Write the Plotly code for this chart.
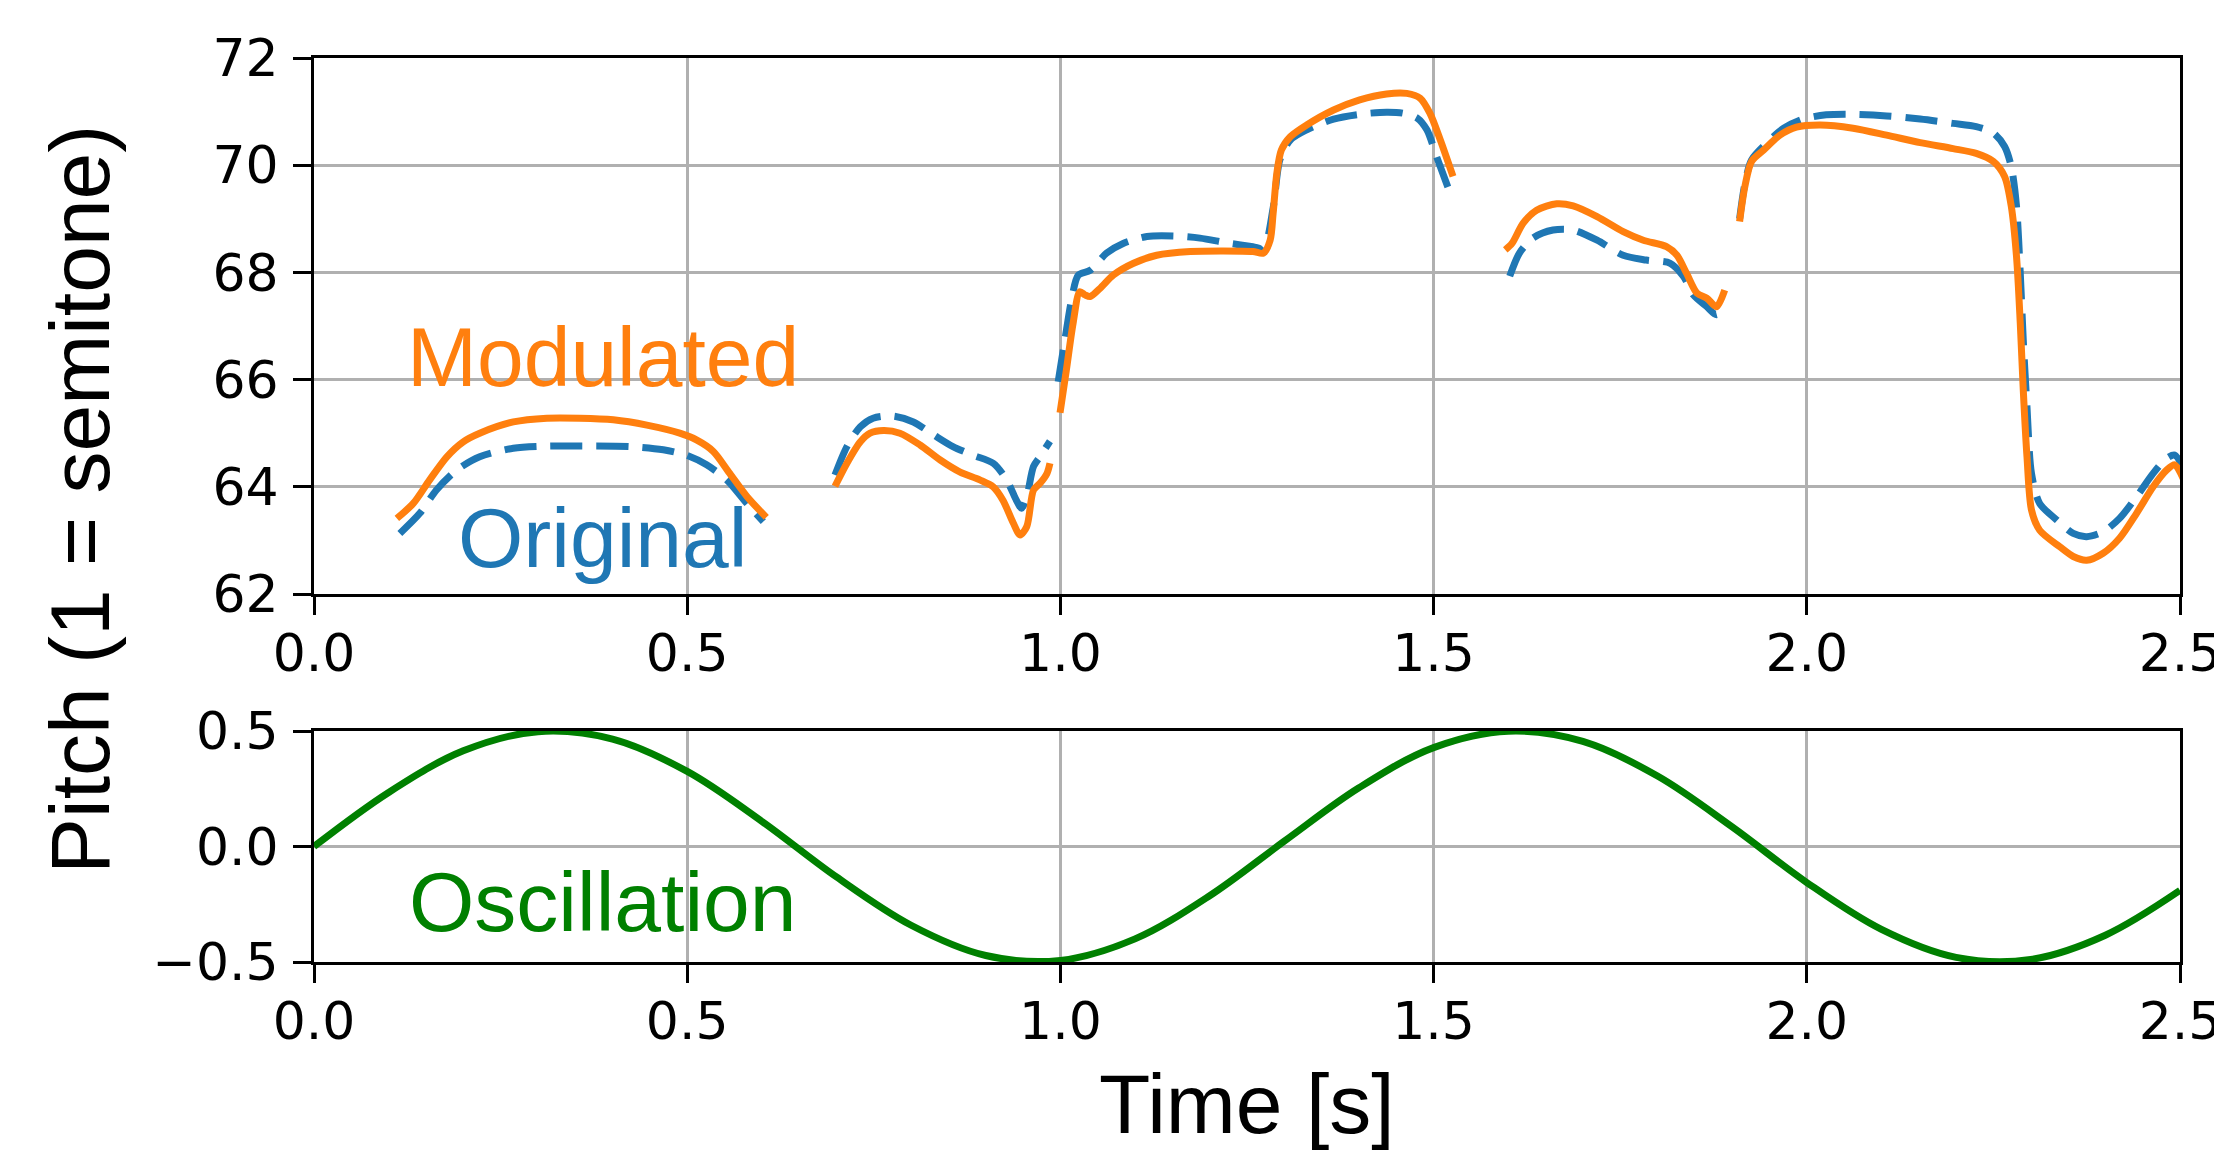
import plotly.graph_objects as go

# ---------------- data ----------------
# Modulated pitch (orange, solid); None separates voiced segments
mod_t = [0.111, 0.133, 0.155, 0.178, 0.200, 0.222, 0.267, 0.312, 0.356, 0.401, 0.446, 0.490, 0.513, 0.535, 0.557, 0.580, 0.606, None,
         0.698, 0.714, 0.732, 0.745, 0.763, 0.785, 0.812, 0.839, 0.865, 0.892, 0.910, 0.923, 0.937, 0.946, 0.955, 0.964, 0.973, 0.982, 0.986, None,
         0.9995, 1.008, 1.017, 1.026, 1.033, 1.040, 1.053, 1.071, 1.098, 1.129, 1.174, 1.218, 1.258, 1.272, 1.281, 1.285, 1.290, 1.296, 1.308, 1.330, 1.366, 1.401, 1.437, 1.464, 1.482, 1.495, 1.509, 1.526, None,
         1.596, 1.605, 1.620, 1.638, 1.665, 1.687, 1.719, 1.754, 1.781, 1.812, 1.826, 1.839, 1.853, 1.866, 1.879, 1.890, None,
         1.910, 1.917, 1.926, 1.942, 1.964, 1.986, 2.018, 2.062, 2.107, 2.152, 2.196, 2.227, 2.250, 2.265, 2.274, 2.281, 2.286, 2.290, 2.295, 2.301, 2.312, 2.339, 2.357, 2.375, 2.397, 2.419, 2.442, 2.464, 2.482, 2.493, 2.505]
mod_p = [63.41, 63.69, 64.13, 64.56, 64.84, 65.00, 65.21, 65.28, 65.28, 65.25, 65.15, 65.00, 64.87, 64.66, 64.25, 63.82, 63.43, None,
         64.01, 64.44, 64.84, 65.00, 65.05, 65.00, 64.78, 64.50, 64.28, 64.13, 64.00, 63.75, 63.32, 63.10, 63.26, 63.94, 64.07, 64.25, 64.44, None,
         65.38, 66.18, 67.05, 67.64, 67.58, 67.55, 67.70, 67.95, 68.17, 68.32, 68.39, 68.40, 68.39, 68.36, 68.60, 69.10, 69.85, 70.28, 70.53, 70.75, 71.03, 71.22, 71.33, 71.34, 71.25, 70.97, 70.47, 69.79, None,
         68.42, 68.54, 68.92, 69.16, 69.28, 69.24, 69.04, 68.76, 68.60, 68.48, 68.32, 67.98, 67.61, 67.52, 67.36, 67.67, None,
         68.95, 69.60, 70.07, 70.28, 70.56, 70.71, 70.75, 70.69, 70.56, 70.42, 70.31, 70.22, 70.07, 69.79, 69.23, 68.29, 67.05, 65.81, 64.56, 63.57, 63.19, 62.88, 62.70, 62.63, 62.76, 63.04, 63.51, 64.00, 64.31, 64.41, 64.13]

# Original pitch (blue, dashed)
org_t = [0.115, 0.142, 0.164, 0.191, 0.222, 0.267, 0.312, 0.356, 0.423, 0.468, 0.499, 0.526, 0.553, 0.580, 0.602, None,
         0.698, 0.714, 0.732, 0.749, 0.776, 0.803, 0.830, 0.856, 0.883, 0.910, 0.928, 0.941, 0.948, 0.955, 0.964, 0.973, 0.986, None,
         0.997, 1.006, 1.015, 1.024, 1.040, 1.062, 1.084, 1.116, 1.151, 1.187, 1.223, 1.258, 1.272, 1.285, 1.294, 1.308, 1.330, 1.366, 1.401, 1.437, 1.459, 1.478, 1.491, 1.504, 1.524, None,
         1.602, 1.615, 1.633, 1.660, 1.687, 1.719, 1.754, 1.785, 1.817, 1.835, 1.848, 1.866, 1.879, 1.890, None,
         1.910, 1.917, 1.926, 1.946, 1.969, 1.995, 2.026, 2.062, 2.107, 2.152, 2.196, 2.227, 2.250, 2.265, 2.274, 2.281, 2.286, 2.290, 2.295, 2.301, 2.312, 2.335, 2.357, 2.375, 2.397, 2.419, 2.442, 2.464, 2.482, 2.493, 2.505]
org_p = [63.13, 63.51, 63.94, 64.31, 64.56, 64.72, 64.76, 64.76, 64.75, 64.69, 64.59, 64.41, 64.13, 63.69, 63.35, None,
         64.22, 64.75, 65.12, 65.28, 65.32, 65.21, 64.97, 64.75, 64.59, 64.44, 64.13, 63.75, 63.60, 63.82, 64.38, 64.57, 64.85, None,
         65.96, 66.74, 67.49, 67.95, 68.04, 68.36, 68.54, 68.67, 68.68, 68.64, 68.55, 68.48, 68.45, 69.20, 70.10, 70.47, 70.66, 70.86, 70.95, 70.99, 70.97, 70.88, 70.66, 70.16, 69.41, None,
         67.93, 68.36, 68.64, 68.79, 68.79, 68.60, 68.32, 68.23, 68.17, 67.92, 67.58, 67.36, 67.21, 67.39, None,
         69.00, 69.65, 70.10, 70.41, 70.69, 70.86, 70.94, 70.95, 70.92, 70.86, 70.78, 70.72, 70.60, 70.35, 69.97, 69.23, 67.98, 66.74, 65.49, 64.25, 63.69, 63.38, 63.13, 63.07, 63.16, 63.41, 63.82, 64.25, 64.53, 64.59, 64.34]

# Oscillation (green)
osc_t = [0.0, 0.1, 0.2, 0.3, 0.4, 0.5, 0.6, 0.7, 0.8, 0.9, 1.0, 1.1, 1.2, 1.3,
         1.4, 1.5, 1.6, 1.7, 1.8, 1.9, 2.0, 2.1, 2.2, 2.3, 2.4, 2.5]
osc_v = [0.0, 0.234, 0.414, 0.497, 0.465, 0.325, 0.109, -0.132, -0.341, -0.472, -0.493, -0.400, -0.213, 0.023,
         0.254, 0.428, 0.499, 0.455, 0.305, 0.085, -0.156, -0.359, -0.480, -0.489, -0.384, -0.190]

x_ticks = [0.0, 0.5, 1.0, 1.5, 2.0, 2.5]
top_y_ticks = [62, 64, 66, 68, 70, 72]
bot_y_ticks = [-0.5, 0.0, 0.5]

# ---------------- figure ----------------
ORANGE = "#ff7f0e"
BLUE = "#1f77b4"
GREEN = "#008000"
TICKFONT = dict(family="DejaVu Sans", size=52, color="black")
TEXTFONT = "Liberation Sans, Arial, sans-serif"
LW = 7

fig = go.Figure()
fig.add_trace(go.Scatter(x=org_t, y=org_p, mode="lines", xaxis="x", yaxis="y",
                         line=dict(color=BLUE, width=LW, dash="32px,14px", shape="spline", smoothing=0.8),
                         connectgaps=False, showlegend=False))
fig.add_trace(go.Scatter(x=mod_t, y=mod_p, mode="lines", xaxis="x", yaxis="y",
                         line=dict(color=ORANGE, width=LW, shape="spline", smoothing=0.8),
                         connectgaps=False, showlegend=False))
fig.add_trace(go.Scatter(x=osc_t, y=osc_v, mode="lines", xaxis="x2", yaxis="y2",
                         line=dict(color=GREEN, width=LW, shape="spline", smoothing=1.0),
                         showlegend=False))

axis_common = dict(showline=True, linecolor="black", linewidth=3, mirror=True,
                   ticks="outside", ticklen=18, tickwidth=3, tickcolor="black",
                   showgrid=True, gridcolor="#b0b0b0", gridwidth=3,
                   zeroline=False, tickfont=TICKFONT, ticklabeloverflow="allow",
                   automargin=False)

W, H = 2214, 1150
L, R, T, B = 314, 34, 58, 188
plot_h = H - T - B  # 904

fig.update_layout(
    width=W, height=H,
    margin=dict(l=L, r=R, t=T, b=B, autoexpand=False),
    paper_bgcolor="white", plot_bgcolor="white",
    xaxis=dict(range=[0, 2.5], tickvals=x_ticks, tickformat=".1f", anchor="y",
               ticklabelstandoff=-6, **axis_common),
    yaxis=dict(range=[62, 72], tickvals=top_y_ticks, anchor="x",
               domain=[(962 - 594) / plot_h, 1.0], ticklabelstandoff=4, **axis_common),
    xaxis2=dict(range=[0, 2.5], tickvals=x_ticks, tickformat=".1f", anchor="y2",
                ticklabelstandoff=-6, **axis_common),
    yaxis2=dict(range=[-0.5, 0.5], tickvals=bot_y_ticks, tickformat=".1f", anchor="x2",
                domain=[0.0, (962 - 731) / plot_h], ticklabelstandoff=4, **axis_common),
)

fig.add_annotation(x=0.387, y=66.43, xref="x", yref="y", text="Modulated", showarrow=False,
                   xanchor="center", yanchor="middle", font=dict(family=TEXTFONT, size=84, color=ORANGE))
fig.add_annotation(x=0.387, y=63.04, xref="x", yref="y", text="Original", showarrow=False,
                   xanchor="center", yanchor="middle", font=dict(family=TEXTFONT, size=84, color=BLUE))
fig.add_annotation(x=0.387, y=-0.241, xref="x2", yref="y2", text="Oscillation", showarrow=False,
                   xanchor="center", yanchor="middle", font=dict(family=TEXTFONT, size=84, color=GREEN))

fig.add_annotation(x=(80 - L) / (W - L - R), y=(962 - 500) / plot_h, xref="paper", yref="paper",
                   text="Pitch (1 = semitone)", textangle=-90, showarrow=False,
                   xanchor="center", yanchor="middle", font=dict(family=TEXTFONT, size=84, color="black"))
fig.add_annotation(x=(1247 - L) / (W - L - R), y=(962 - 1104) / plot_h, xref="paper", yref="paper",
                   text="Time [s]", showarrow=False,
                   xanchor="center", yanchor="middle", font=dict(family=TEXTFONT, size=84, color="black"))

fig.write_html("out.html", post_script="document.body.style.margin='0px';",
               config={"displayModeBar": False})
